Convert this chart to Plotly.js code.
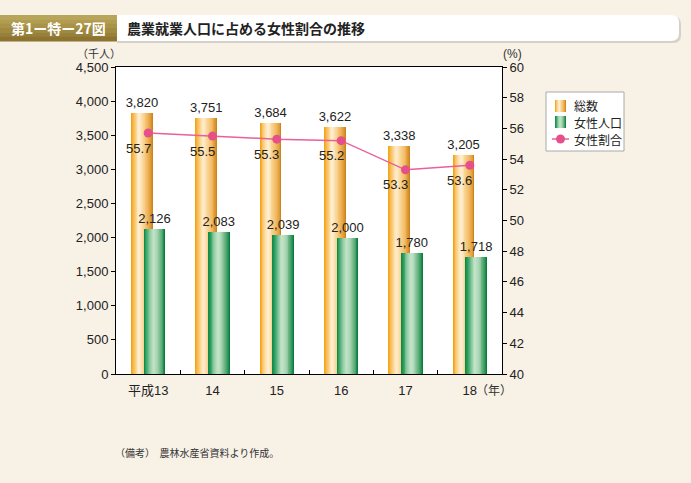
<!DOCTYPE html>
<html>
<head>
<meta charset="utf-8">
<script src="https://cdn.plot.ly/plotly-3.0.1.min.js"></script>
<style>
html,body{margin:0;padding:0;background:#f7f1e6;}
#chart{width:691px;height:483px;}
</style>
</head>
<body>
<div id="chart"></div>
<script>
// ---- data ----
const categories = ["平成13", "14", "15", "16", "17", "18"];
const totalWorkers = [3820, 3751, 3684, 3622, 3338, 3205];
const femaleWorkers = [2126, 2083, 2039, 2000, 1780, 1718];
const femaleShare = [55.7, 55.5, 55.3, 55.2, 53.3, 53.6];
const seriesNames = ["総数", "女性人口", "女性割合"];

// ---- styles ----
const FONT = "Liberation Sans, Arial, Noto Sans CJK JP, sans-serif";
const CJK = "Noto Sans CJK JP, sans-serif";
// gradient key stops [position 0..1, rgb]
const orangeKeys = [[0, [242,160,8]], [0.12, [248,190,90]], [0.28, [253,226,176]], [0.38, [255,240,214]], [0.55, [250,214,150]], [0.75, [241,186,100]], [0.9, [226,154,50]], [1, [196,126,28]]];
const greenKeys  = [[0, [8,134,66]], [0.12, [50,160,100]], [0.3, [150,206,166]], [0.45, [196,229,200]], [0.62, [170,214,180]], [0.8, [100,176,126]], [0.92, [40,148,86]], [1, [0,118,54]]];
function ramp(keys, n) {
  const out = [];
  for (let i = 0; i < n; i++) {
    const t = (i + 0.5) / n;
    let k = 0;
    while (k < keys.length - 2 && t > keys[k + 1][0]) k++;
    const [p0, c0] = keys[k], [p1, c1] = keys[k + 1];
    const f = Math.min(1, Math.max(0, (t - p0) / (p1 - p0)));
    out.push('rgb(' + c0.map((v, j) => Math.round(v + (c1[j] - v) * f)).join(',') + ')');
  }
  return out;
}
const orangeStops = ramp(orangeKeys, 24);
const greenStops = ramp(greenKeys, 24);
const orangeOffset = -0.265, greenOffset = -0.07, barW = 0.335;

const traces = [];
function addStrips(yvals, stops, offset) {
  const n = stops.length, sw = barW / n;
  stops.forEach((c, i) => {
    traces.push({
      type: 'bar', x: categories, y: yvals, yaxis: 'y',
      offset: offset + i * sw, width: barW - i * sw,
      marker: {color: c, line: {width: 0}},
      showlegend: false, hoverinfo: 'skip'
    });
  });
}
addStrips(totalWorkers, orangeStops, orangeOffset);
addStrips(femaleWorkers, greenStops, greenOffset);

// value labels on bars
[[totalWorkers, orangeOffset], [femaleWorkers, greenOffset]].forEach(([vals, off]) => {
  traces.push({
    type: 'bar', x: categories, y: vals, offset: off, width: barW,
    marker: {color: 'rgba(0,0,0,0)'},
    text: vals.map(v => v.toLocaleString('en-US')),
    textposition: 'outside', constraintext: 'none', cliponaxis: false,
    textfont: {family: FONT, size: 13, color: '#222'},
    showlegend: false, hoverinfo: 'skip'
  });
});

// line
traces.push({
  type: 'scatter', mode: 'lines+markers', x: categories, y: femaleShare, yaxis: 'y2',
  name: seriesNames[2], showlegend: false,
  line: {color: '#e8609a', width: 1.5},
  marker: {color: '#e6508a', size: 9},
  cliponaxis: false
});

const annotations = femaleShare.map((v, i) => ({
  x: i, y: v, xref: 'x', yref: 'y2',
  text: v.toFixed(1), showarrow: false, xshift: -10, yshift: -15,
  font: {family: FONT, size: 13, color: '#222'}
}));

// helpers: pixel -> paper
const L = 116, R = 502, T = 67, B = 374;
const px = x => (x - L) / (R - L);
const py = y => (B - y) / (B - T);

annotations.push(
  {xref: 'paper', yref: 'paper', x: px(125), y: py(28), xanchor: 'left', yanchor: 'middle', showarrow: false,
   text: '<b>農業就業人口に占める女性割合の推移</b>', font: {family: CJK, size: 14, color: '#222'}},
  {xref: 'paper', yref: 'paper', x: px(58), y: py(28), xanchor: 'center', yanchor: 'middle', showarrow: false,
   text: '<b>第1ー特ー27図</b>', font: {family: CJK, size: 14, color: '#ffffff'}},
  {xref: 'paper', yref: 'paper', x: px(99), y: py(53), xanchor: 'center', yanchor: 'middle', showarrow: false,
   text: '（千人）', font: {family: CJK, size: 11, color: '#333'}},
  {xref: 'paper', yref: 'paper', x: px(512), y: py(54), xanchor: 'center', yanchor: 'middle', showarrow: false,
   text: '(%)', font: {family: FONT, size: 12, color: '#333'}},
  {xref: 'paper', yref: 'paper', x: px(494), y: py(389), xanchor: 'center', yanchor: 'middle', showarrow: false,
   text: '（年）', font: {family: CJK, size: 12, color: '#333'}},
  {xref: 'paper', yref: 'paper', x: px(113), y: py(452), xanchor: 'left', yanchor: 'middle', showarrow: false,
   text: '（備考）  農林水産省資料より作成。', font: {family: CJK, size: 10, color: '#333'}}
);

// custom legend texts
const legendTextY = [106, 122, 139];
seriesNames.forEach((nm, i) => {
  annotations.push({xref: 'paper', yref: 'paper', x: px(572), y: py(legendTextY[i]), xanchor: 'left', yanchor: 'middle',
    showarrow: false, text: nm, font: {family: CJK, size: 12, color: '#222'}});
});

const shapes = [];
// banner
const goldBands = ['#b9a45c','#b19c50','#a99348','#a08a40','#978039','#8d7531'];
const gy0 = 15, gy1 = 41, bh = (gy1 - gy0) / goldBands.length;
goldBands.forEach((c, i) => {
  shapes.push({type: 'rect', xref: 'paper', yref: 'paper', layer: 'below',
    x0: px(0), x1: px(117), y0: py(gy0 + (i + 1) * bh + 0.5), y1: py(gy0 + i * bh),
    fillcolor: c, line: {width: 0}});
});
function roundedPath(x0, y0, x1, y1, r) {
  return `M ${px(x0)} ${py(y0)} L ${px(x1 - r)} ${py(y0)} Q ${px(x1)} ${py(y0)} ${px(x1)} ${py(y0 + r)} ` +
         `L ${px(x1)} ${py(y1 - r)} Q ${px(x1)} ${py(y1)} ${px(x1 - r)} ${py(y1)} L ${px(x0)} ${py(y1)} Z`;
}
shapes.push({type: 'path', xref: 'paper', yref: 'paper', layer: 'below',
  path: roundedPath(117, 16.5, 681, 43, 8), fillcolor: '#d6d1c8', line: {width: 0}});
shapes.push({type: 'path', xref: 'paper', yref: 'paper', layer: 'below',
  path: roundedPath(117, 15, 679, 41, 8), fillcolor: '#ffffff', line: {width: 0}});

// legend box
shapes.push({type: 'rect', xref: 'paper', yref: 'paper', x0: px(546), x1: px(624), y0: py(151), y1: py(92),
  fillcolor: '#ffffff', line: {color: '#aaaaaa', width: 1}});
function legendSwatch(stops, x0, x1, y0, y1) {
  const n = stops.length, w = (x1 - x0) / n;
  stops.forEach((c, i) => {
    shapes.push({type: 'rect', xref: 'paper', yref: 'paper', x0: px(x0 + i * w), x1: px(x1), y0: py(y1), y1: py(y0),
      fillcolor: c, line: {width: 0}});
  });
}
legendSwatch(ramp(orangeKeys, 11), 555, 566, 100, 112);
legendSwatch(ramp(greenKeys, 11), 555, 566, 116, 128);
shapes.push({type: 'line', xref: 'paper', yref: 'paper', x0: px(552), x1: px(569), y0: py(139), y1: py(139),
  line: {color: '#e8609a', width: 1.5}});
shapes.push({type: 'circle', xref: 'paper', yref: 'paper', x0: px(556), x1: px(565), y0: py(143.5), y1: py(134.5),
  fillcolor: '#e6508a', line: {width: 0}});

const layout = {
  width: 691, height: 483,
  margin: {l: L, r: 691 - R, t: T, b: 483 - B, pad: 0},
  paper_bgcolor: '#f7f1e6', plot_bgcolor: '#ffffff',
  barmode: 'overlay', bargap: 0,
  showlegend: false,
  xaxis: {type: 'category', range: [-0.5, 5.5], showline: true, linecolor: '#000', linewidth: 1,
    mirror: true, ticks: 'inside', tickson: 'boundaries', ticklen: 4, tickcolor: '#000',
    ticklabelstandoff: 4,
    tickfont: {family: FONT, size: 13, color: '#222'}, showgrid: false, fixedrange: true},
  yaxis: {range: [0, 4500], dtick: 500, tickformat: ',d', ticks: 'outside', ticklen: 4, tickcolor: '#000',
    showline: true, linecolor: '#000', linewidth: 1, showgrid: false, zeroline: false,
    tickfont: {family: FONT, size: 13, color: '#222'}},
  yaxis2: {range: [40, 60], dtick: 2, overlaying: 'y', side: 'right', ticks: 'outside', ticklen: 4, tickcolor: '#000',
    showline: true, linecolor: '#000', linewidth: 1, showgrid: false, zeroline: false,
    tickfont: {family: FONT, size: 13, color: '#222'}},
  annotations: annotations,
  shapes: shapes
};

Plotly.newPlot('chart', traces, layout, {displayModeBar: false, staticPlot: true});
</script>
</body>
</html>
